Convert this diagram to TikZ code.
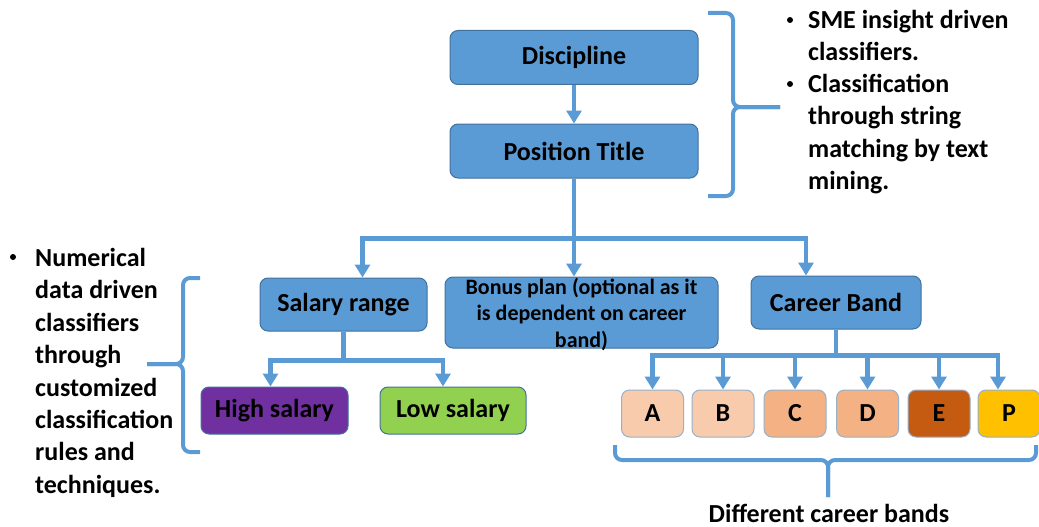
\documentclass[tikz,border=0pt]{standalone}
\usepackage{fontspec}
\setmainfont{Carlito}
\usetikzlibrary{arrows.meta,positioning,calc}
\definecolor{boxblue}{HTML}{5B9BD5}
\definecolor{boxedge}{HTML}{41719C}
\definecolor{bandlight}{HTML}{F8CBAD}
\definecolor{bandmid}{HTML}{F4B183}
\definecolor{banddark}{HTML}{C55A11}
\definecolor{bandgold}{HTML}{FFC000}
\definecolor{highsal}{HTML}{7030A0}
\definecolor{lowsal}{HTML}{92D050}

\begin{document}
\begin{tikzpicture}[
    x=1pt, y=-1pt,
    box/.style={rectangle, draw=boxedge, line width=1pt, rounded corners=8pt, fill=boxblue, inner sep=2pt,
        font=\fontsize{26}{30}\selectfont\bfseries},
    topbox/.style={box, minimum width=248pt, minimum height=54pt},
    midbox/.style={box, minimum height=53pt},
    leafbox/.style={box, minimum height=47pt},
    bandbox/.style={box, draw=boxedge!55, minimum width=62pt, minimum height=47pt},
    note/.style={align=left, inner sep=0pt, font=\fontsize{26}{32.4}\selectfont\bfseries},
    dot/.style={circle, fill=black, inner sep=0pt, minimum size=6pt},
    arrow/.style={-{Triangle[width=15pt,length=13pt]}, line width=4.5pt, draw=boxblue},
    brace/.style={line width=4pt, draw=boxblue, rounded corners=7pt}
]
    \useasboundingbox (0,0) rectangle (1039,527);

    % main chain
    \node[topbox] (disc) at (574,57.5) {Discipline};
    \node[topbox] (pos) at (574,151) {Position Title};

    \node[midbox, minimum width=167pt] (salary) at (343.5,304.5) {Salary range};
    \node[box, minimum width=273pt, minimum height=71pt, inner ysep=-3pt, text depth=0pt, align=center,
        font=\fontsize{22}{26.5}\selectfont\bfseries] (bonus) at (581.5,312.5)
        {Bonus plan (optional as it\\is dependent on career\\band)};
    \node[midbox, minimum width=170pt] (career) at (836,302.5) {Career Band};

    \node[leafbox, fill=highsal, minimum width=147pt] (high) at (274.5,410.5) {High salary};
    \node[leafbox, fill=lowsal, minimum width=146pt] (low) at (453,410.5) {Low salary};

    % career bands
    \node[bandbox, fill=bandlight] (a) at (652.5,413.5) {A};
    \node[bandbox, fill=bandlight] (b) at (723,413.5) {B};
    \node[bandbox, fill=bandmid] (c) at (795,413.5) {C};
    \node[bandbox, fill=bandmid] (d) at (867.5,413.5) {D};
    \node[bandbox, fill=banddark] (e) at (939,413.5) {E};
    \node[bandbox, fill=bandgold] (p) at (1009,413.5) {P};

    \draw[arrow] (disc) -- (pos);
    \draw[arrow] (pos.south) -- (pos.south |- bonus.north);
    \draw[arrow] (pos.south) -- ++(0,60) -| ([xshift=19pt]salary.north);
    \draw[arrow] (pos.south) -- ++(0,60) -| ([xshift=-30pt]career.north);

    \draw[arrow] (salary.south) -- ++(0,29) -| ([xshift=-4pt]high.north);
    \draw[arrow] (salary.south) -- ++(0,29) -| ([xshift=-10pt]low.north);

    \foreach \n in {a,b,c,d,e}
        \draw[arrow] (career.south) -- ++(0,26) -| (\n.north);
    \draw[arrow] (career.south) -- ++(0,26) -| ([xshift=-11pt]p.north);

    % notes
    \node[dot] (smedot) at (790,20) {};
    \node[note, anchor=north west] (smetext) at (808,10) {SME insight driven\\classifiers.};
    \node[dot] (clsdot) at (790,84) {};
    \node[note, anchor=north west] (clstext) at (808,74) {Classification\\through string\\matching by text\\mining.};
    \node[dot] (numdot) at (13,257) {};
    \node[note, anchor=north west] (numtext) at (35,248) {Numerical\\data driven\\classifiers\\through\\customized\\classification\\rules and\\techniques.};
    \node[note] (bandtext) at (829,513) {Different career bands};

    % braces
    \draw[brace] (708,13) -| (733,107) -- (780,107);
    \draw[brace] (708,196) -| (733,107) -- (780,107);
    \draw[brace] (200,278) -| (183,364) -- (147,364);
    \draw[brace] (200,452) -| (183,364) -- (147,364);
    \draw[brace] (615,445) |- (828,460) -- (828,497);
    \draw[brace] (1036,445) |- (828,460) -- (828,497);
\end{tikzpicture}
\end{document}
